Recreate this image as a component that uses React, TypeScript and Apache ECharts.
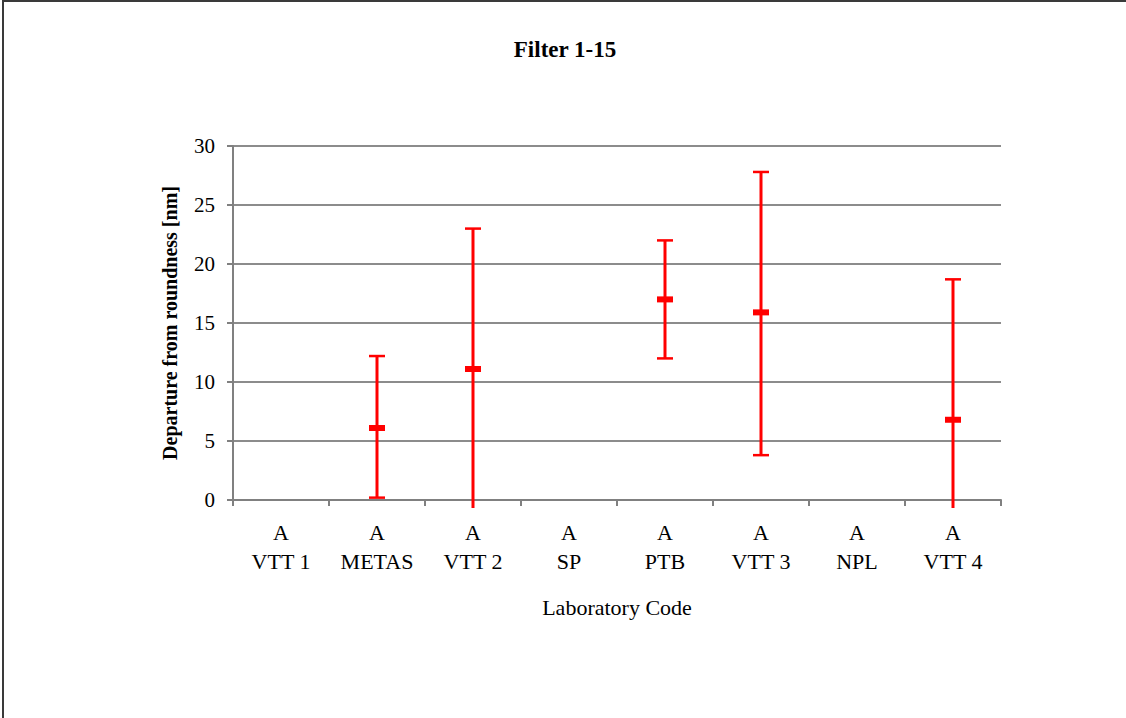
import React, { useEffect, useRef } from "react";
import * as echarts from "echarts";

const categories = ["A\nVTT 1", "A\nMETAS", "A\nVTT 2", "A\nSP", "A\nPTB", "A\nVTT 3", "A\nNPL", "A\nVTT 4"];
// values per lab: center, lower, upper (null = no result)
const centerValues: (number | null)[] = [null, 6.1, 11.1, null, 17.0, 15.9, null, 6.8];
const lowerValues: (number | null)[] = [null, 0.2, -1.0, null, 12.0, 3.8, null, -5.1];
const upperValues: (number | null)[] = [null, 12.2, 23.0, null, 22.0, 27.8, null, 18.7];
const yTicks = [0, 5, 10, 15, 20, 25, 30];

const FONT = "'Liberation Serif', 'Times New Roman', serif";

export default function App() {
  const ref = useRef<HTMLDivElement>(null);
  useEffect(() => {
    document.body.style.margin = "0";
    const chart = echarts.init(ref.current!, null, { renderer: "svg" });
    const data = categories
      .map((_, i) => [i, lowerValues[i], upperValues[i], centerValues[i]])
      .filter((d) => d[3] !== null);
    chart.setOption({
      animation: false,
      backgroundColor: "#fff",
      title: {
        text: "Filter 1-15",
        left: 560,
        top: 33,
        textAlign: "center",
        textStyle: { fontFamily: FONT, fontSize: 23, fontWeight: "bold", color: "#000" },
      },
      graphic: [
        { type: "line", shape: { x1: 3, y1: 1, x2: 1126, y2: 1 }, style: { stroke: "#3a3a3a", lineWidth: 2 } },
        { type: "line", shape: { x1: 3, y1: 0, x2: 3, y2: 718 }, style: { stroke: "#3a3a3a", lineWidth: 2 } },
      ],
      grid: { left: 233, top: 146, right: 125, bottom: 218 },
      xAxis: {
        type: "category",
        data: categories,
        boundaryGap: true,
        name: "Laboratory Code",
        nameLocation: "middle",
        nameGap: 96,
        nameTextStyle: { fontFamily: FONT, fontSize: 22, color: "#000" },
        axisLine: { lineStyle: { color: "#808080", width: 2 } },
        axisTick: { show: true, length: 6, inside: false, lineStyle: { color: "#808080", width: 2 } },
        axisLabel: { fontFamily: FONT, fontSize: 22, color: "#000", lineHeight: 29, margin: 18, interval: 0 },
      },
      yAxis: {
        type: "value",
        min: yTicks[0],
        max: yTicks[yTicks.length - 1],
        interval: 5,
        name: "Departure from roundness [nm]",
        nameLocation: "middle",
        nameGap: 53,
        nameTextStyle: { fontFamily: FONT, fontSize: 20, fontWeight: "bold", color: "#000" },
        axisLine: { show: true, lineStyle: { color: "#808080", width: 2 } },
        axisTick: { show: true, length: 6, lineStyle: { color: "#808080", width: 2 } },
        axisLabel: { fontFamily: FONT, fontSize: 21, color: "#000", margin: 18 },
        splitLine: { show: true, lineStyle: { color: "#666", width: 1.5 } },
      },
      series: [
        {
          type: "custom",
          clip: false,
          data,
          encode: { x: 0, y: [1, 2, 3] },
          renderItem: (params: any, api: any) => {
            const x = api.value(0);
            const lo = api.value(1);
            const hi = api.value(2);
            const c = api.value(3);
            const zero = api.coord([x, 0])[1];
            const pHi = api.coord([x, hi]);
            const pC = api.coord([x, c]);
            let loY = api.coord([x, lo])[1];
            const clipped = loY > zero + 8;
            if (clipped) loY = zero + 8;
            const px = pHi[0];
            const hw = 8;
            const red = "#ff0000";
            const children: any[] = [
              { type: "line", shape: { x1: px, y1: pHi[1], x2: px, y2: loY }, style: { stroke: red, lineWidth: 3 } },
              { type: "line", shape: { x1: px - hw, y1: pHi[1], x2: px + hw, y2: pHi[1] }, style: { stroke: red, lineWidth: 2.5 } },
              { type: "rect", shape: { x: px - hw, y: pC[1] - 3, width: 2 * hw, height: 6 }, style: { fill: red } },
            ];
            if (!clipped) {
              children.push({ type: "line", shape: { x1: px - hw, y1: loY, x2: px + hw, y2: loY }, style: { stroke: red, lineWidth: 2.5 } });
            }
            return { type: "group", children };
          },
        },
      ],
    });
    return () => chart.dispose();
  }, []);
  return <div ref={ref} style={{ width: 1126, height: 718 }} />;
}
